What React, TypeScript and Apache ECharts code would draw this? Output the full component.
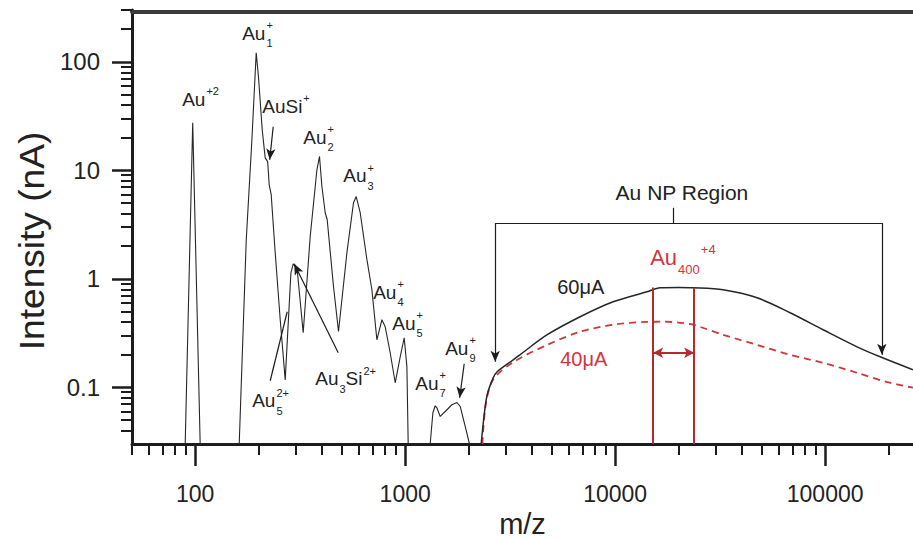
import React, { useEffect, useRef } from 'react';
import * as echarts from 'echarts';

const FONT = '"Liberation Sans", Arial, Helvetica, sans-serif';
const INK = '#1c1c1c';
const LINE = '#262626';
const TEXT = '#222222';
const RED = '#d2353c';
const RED_DARK = '#b8282e';

// ---- Low-mass spectrum (60 µA), m/z and intensity (nA) ----
const spectrumMz = [
  89.6, 97.3, 105.6,
  162.0, 175.0, 186.2, 195.2, 200.1, 208.5, 215.4, 221.4, 225.1, 230.1,
  240.4, 254.0, 268.3, 285.6, 292.9, 306.0, 326.8, 352.8, 379.8, 390.8,
  401.2, 415.9, 425.2, 455.6, 481.3, 527.8, 567.3, 584.4, 610.6, 657.3,
  694.1, 733.2, 774.5, 803.2, 848.4, 896.3, 946.7, 989.1, 1018.8, 1033.4,
  1315, 1355, 1389, 1416, 1468, 1550, 1669, 1763, 1828, 1931, 2024,
];
const spectrumI = [
  0.03, 27.4, 0.03,
  0.03, 2.29, 19.1, 121, 72.7, 23.6, 13.0, 12.0, 7.35, 5.95,
  1.74, 0.419, 0.117, 1.135, 1.375, 1.21, 0.318, 2.44, 10.1, 13.4,
  7.09, 4.06, 3.5, 0.849, 0.327, 1.74, 5.02, 5.73, 4.06, 1.5,
  0.792, 0.274, 0.419, 0.361, 0.208, 0.11, 0.191, 0.286, 0.155, 0.03,
  0.03, 0.0582, 0.0675, 0.0647, 0.0538, 0.0598, 0.069, 0.0724, 0.0665, 0.0435, 0.03,
];

// ---- Au NP region, 60 µA (solid black) ----
const np60Mz = [2301, 2378, 2458, 2624, 2742, 3266, 3530, 4746, 6810, 9780, 14190, 16360, 20000, 23500, 32650, 47420, 68080, 97800, 141900, 182700, 262000];
const np60I = [0.03, 0.0558, 0.0853, 0.122, 0.139, 0.179, 0.2, 0.305, 0.447, 0.614, 0.759, 0.826, 0.83, 0.826, 0.792, 0.668, 0.486, 0.339, 0.236, 0.191, 0.145];

// ---- Au NP region, 40 µA (red dashed) ----
const np40Mz = [2330, 2420, 2624, 3266, 4746, 6810, 9780, 14000, 17000, 20000, 23500, 25400, 32650, 47420, 68080, 97800, 141900, 196000, 262000];
const np40I = [0.03, 0.07, 0.118, 0.17, 0.246, 0.325, 0.377, 0.4, 0.402, 0.395, 0.377, 0.36, 0.305, 0.246, 0.199, 0.168, 0.136, 0.112, 0.099];

// ---- Au400 +4 window (m/z) ----
const au400Window = [15170, 23770];

// ---- Tick values ----
const xMajorTicks = [100, 1000, 10000, 100000];
const xMinorTicks = [
  50, 60, 70, 80, 90,
  200, 300, 400, 500, 600, 700, 800, 900,
  2000, 3000, 4000, 5000, 6000, 7000, 8000, 9000,
  20000, 30000, 40000, 50000, 60000, 70000, 80000, 90000,
  200000,
];
const yMajorTicks = [0.1, 1, 10, 100];
const yMinorTicks = [
  0.04, 0.05, 0.06, 0.07, 0.08, 0.09,
  0.2, 0.3, 0.4, 0.5, 0.6, 0.7, 0.8, 0.9,
  2, 3, 4, 5, 6, 7, 8, 9,
  20, 30, 40, 50, 60, 70, 80, 90,
  200, 300,
];

// ---- Annotations (anchored in data space) ----
type Part = { t?: string; sup?: string; sub?: string };
type Ann = {
  at: [number, number];
  parts: Part[];
  size?: number;
  small?: number;
  color?: string;
  align?: 'left' | 'center';
  supDy?: number;
  subDy?: number;
};

const labels: Ann[] = [
  { at: [86.7, 45.1], parts: [{ t: 'Au' }, { sup: '+2' }] },
  { at: [167.4, 183.1], parts: [{ t: 'Au' }, { sup: '+', sub: '1' }] },
  { at: [208.5, 38.9], parts: [{ t: 'AuSi' }, { sup: '+' }] },
  { at: [326.8, 20.1], parts: [{ t: 'Au' }, { sup: '+', sub: '2' }] },
  { at: [506.8, 8.9], parts: [{ t: 'Au' }, { sup: '+', sub: '3' }] },
  { at: [704.1, 0.751], parts: [{ t: 'Au' }, { sup: '+', sub: '4' }] },
  { at: [867.5, 0.389], parts: [{ t: 'Au' }, { sup: '+', sub: '5' }] },
  { at: [1550, 0.2288], parts: [{ t: 'Au' }, { sup: '+', sub: '9' }] },
  { at: [1116, 0.1089], parts: [{ t: 'Au' }, { sup: '+', sub: '7' }] },
  { at: [372.8, 0.1198], parts: [{ t: 'Au' }, { sub: '3' }, { t: 'Si' }, { sup: '2+' }] },
  { at: [186.8, 0.0751], parts: [{ t: 'Au' }, { sup: '2+', sub: '5' }] },
  { at: [20840, 6.2], parts: [{ t: 'Au NP Region' }], size: 21, align: 'center' },
  { at: [5293, 0.844], parts: [{ t: '60μA' }], size: 20 },
  { at: [5472, 0.183], parts: [{ t: '40μA' }], size: 20, color: RED },
  { at: [14680, 1.578], parts: [{ t: 'Au' }, { sub: '400' }, { sup: '+4' }], size: 22, small: 13, color: RED, supDy: -8, subDy: 12 },
];

type Seg = { from: [number, number]; to: [number, number]; a0?: boolean; a1?: boolean };

const blackLines: Seg[] = [
  { from: [235.2, 25.2], to: [226.3, 12.5], a1: true },          // AuSi+
  { from: [479.8, 0.208], to: [296.0, 1.375], a1: true },         // Au3Si2+
  { from: [227.6, 0.1148], to: [274.2, 0.4966] },                 // Au5 2+
  { from: [1910, 0.1647], to: [1817, 0.08], a1: true },           // Au9+
  { from: [18830, 4.512], to: [18830, 3.262] },                   // bracket stem
  { from: [2683, 3.262], to: [186200, 3.262] },                   // bracket bar
  { from: [2683, 3.262], to: [2683, 0.1718], a1: true },          // left arrow
  { from: [186200, 3.262], to: [186200, 0.1993], a1: true },      // right arrow
];

const redLines: Seg[] = [
  { from: [au400Window[0], 0.83], to: [au400Window[0], 0.03] },
  { from: [au400Window[1], 0.83], to: [au400Window[1], 0.03] },
  { from: [au400Window[0], 0.208], to: [au400Window[1], 0.208], a0: true, a1: true },
];

const toMarkData = (segs: Seg[]) =>
  segs.map((s) => [
    { coord: s.from, symbol: s.a0 ? 'arrow' : 'none' },
    { coord: s.to, symbol: s.a1 ? 'arrow' : 'none' },
  ]);

const fmtX = (v: number) => String(Math.round(v));
const fmtY = (v: number) => (v < 1 ? String(Number(v.toFixed(3))) : String(Math.round(v)));

function buildOption(): any {
  const baseX = {
    type: 'log',
    logBase: 10,
    min: 50,
    max: 262000,
    splitLine: { show: false },
    minorTick: { show: false },
    minorSplitLine: { show: false },
    axisPointer: { show: false },
  };
  const baseY = {
    type: 'log',
    logBase: 10,
    min: 0.03,
    max: 300,
    splitLine: { show: false },
    minorTick: { show: false },
    minorSplitLine: { show: false },
    axisPointer: { show: false },
  };
  return {
    animation: false,
    backgroundColor: '#ffffff',
    grid: { left: 132, right: 0, top: 10, bottom: 96, containLabel: false, outerBoundsMode: 'none' },
    xAxis: [
      {
        ...baseX,
        position: 'bottom',
        axisLine: { show: true, onZero: false, lineStyle: { color: INK, width: 3 } },
        axisTick: { show: true, customValues: xMajorTicks, length: 22, lineStyle: { color: INK, width: 2.5 } },
        axisLabel: { show: true, customValues: xMajorTicks, formatter: fmtX, fontSize: 23, fontFamily: FONT, color: TEXT, margin: 38 },
        name: 'm/z',
        nameLocation: 'middle',
        nameGap: 65,
        nameTextStyle: { fontSize: 29, fontFamily: FONT, color: TEXT, lineHeight: 29 },
      },
      {
        ...baseX,
        position: 'bottom',
        axisLine: { show: false, onZero: false },
        axisTick: { show: true, customValues: xMinorTicks, length: 11, lineStyle: { color: INK, width: 2 } },
        axisLabel: { show: false },
      },
      {
        ...baseX,
        position: 'top',
        offset: -2,
        axisLine: { show: true, onZero: false, lineStyle: { color: '#3b3b3b', width: 4 } },
        axisTick: { show: false },
        axisLabel: { show: false },
      },
    ],
    yAxis: [
      {
        ...baseY,
        position: 'left',
        axisLine: { show: true, onZero: false, lineStyle: { color: INK, width: 3 } },
        axisTick: { show: true, customValues: yMajorTicks, length: 20, lineStyle: { color: INK, width: 2.5 } },
        axisLabel: { show: true, customValues: yMajorTicks, formatter: fmtY, fontSize: 24, fontFamily: FONT, color: TEXT, margin: 32 },
      },
      {
        ...baseY,
        position: 'left',
        axisLine: { show: false, onZero: false },
        axisTick: { show: true, customValues: yMinorTicks, length: 11, lineStyle: { color: INK, width: 2 } },
        axisLabel: { show: false },
      },
    ],
    series: [
      {
        type: 'line',
        name: '60μA spectrum',
        xAxisIndex: 0,
        yAxisIndex: 0,
        data: spectrumMz.map((m, i) => [m, spectrumI[i]]),
        symbol: 'none',
        showSymbol: false,
        clip: true,
        silent: true,
        lineStyle: { color: LINE, width: 1.1 },
        z: 3,
        markLine: {
          silent: true,
          animation: false,
          symbolSize: [7, 11],
          label: { show: false },
          emphasis: { disabled: true },
          lineStyle: { color: INK, width: 1.2, type: 'solid' },
          itemStyle: { color: INK },
          data: toMarkData(blackLines),
        },
      },
      {
        type: 'line',
        name: '60μA',
        xAxisIndex: 0,
        yAxisIndex: 0,
        data: np60Mz.map((m, i) => [m, np60I[i]]),
        symbol: 'none',
        showSymbol: false,
        smooth: 0.3,
        clip: true,
        silent: true,
        lineStyle: { color: LINE, width: 1.5 },
        z: 3,
      },
      {
        type: 'line',
        name: '40μA',
        xAxisIndex: 0,
        yAxisIndex: 0,
        data: np40Mz.map((m, i) => [m, np40I[i]]),
        symbol: 'none',
        showSymbol: false,
        smooth: 0.3,
        clip: true,
        silent: true,
        lineStyle: { color: RED, width: 1.8, type: [7, 5] },
        z: 2,
        markLine: {
          silent: true,
          animation: false,
          symbolSize: [8, 10],
          label: { show: false },
          emphasis: { disabled: true },
          lineStyle: { color: RED_DARK, width: 2, type: 'solid' },
          itemStyle: { color: RED },
          data: toMarkData(redLines),
        },
      },
    ],
  };
}

export default function App() {
  const ref = useRef<HTMLDivElement>(null);
  useEffect(() => {
    const el = ref.current;
    if (!el) return;
    const chart = echarts.init(el, null, { renderer: 'svg' });
    chart.setOption(buildOption());

    const canvas = document.createElement('canvas');
    const ctx = canvas.getContext('2d');
    const tw = (s: string, fs: number) => {
      if (!ctx) return s.length * fs * 0.56;
      ctx.font = `${fs}px ${FONT}`;
      return ctx.measureText(s).width;
    };
    const txt = (x: number, y: number, text: string, fs: number, color: string, align = 'left') => ({
      type: 'text',
      x,
      y,
      silent: true,
      z: 10,
      style: {
        text,
        fill: color,
        fontSize: fs,
        fontFamily: FONT,
        textAlign: align,
        textVerticalAlign: 'middle',
        align,
        verticalAlign: 'middle',
      },
    });

    const graphic: any[] = [];
    for (const a of labels) {
      const size = a.size ?? 19;
      const small = a.small ?? 11;
      const color = a.color ?? TEXT;
      const supDy = a.supDy ?? -8;
      const subDy = a.subDy ?? 10;
      const p = chart.convertToPixel({ seriesIndex: 0 }, a.at) as number[];
      if (!p) continue;
      const widths = a.parts.map((pt) =>
        pt.t !== undefined ? tw(pt.t, size) : Math.max(pt.sup ? tw(pt.sup, small) : 0, pt.sub ? tw(pt.sub, small) : 0) + 1
      );
      const total = widths.reduce((s, w) => s + w, 0);
      let x = a.align === 'center' ? p[0] - total / 2 : p[0];
      const y = p[1];
      a.parts.forEach((pt, i) => {
        if (pt.t !== undefined) {
          graphic.push(txt(x, y, pt.t, size, color));
        } else {
          if (pt.sup) graphic.push(txt(x + 1, y + supDy, pt.sup, small, color));
          if (pt.sub) graphic.push(txt(x + 1, y + subDy, pt.sub, small, color));
        }
        x += widths[i];
      });
    }
    // Y-axis title
    graphic.push({
      type: 'text',
      x: 32,
      y: 241,
      rotation: Math.PI / 2,
      scaleX: 1.06,
      silent: true,
      style: {
        text: 'Intensity (nA)',
        fill: TEXT,
        fontSize: 35,
        fontFamily: FONT,
        textAlign: 'center',
        textVerticalAlign: 'middle',
        align: 'center',
        verticalAlign: 'middle',
      },
    });
    chart.setOption({ graphic });

    return () => {
      chart.dispose();
    };
  }, []);
  return (
    <div
      ref={ref}
      style={{ position: 'fixed', left: 0, top: 0, width: 913, height: 540, background: '#ffffff' }}
    />
  );
}
